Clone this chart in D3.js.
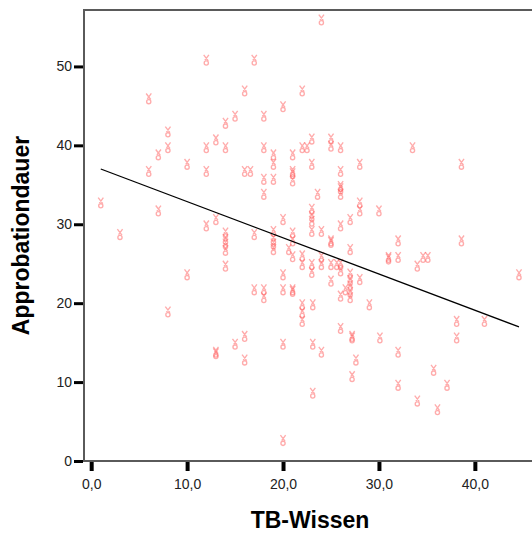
<!DOCTYPE html>
<html>
<head>
<meta charset="utf-8">
<script src="https://cdn.jsdelivr.net/npm/d3@7"></script>
<style>
  body { margin: 0; background: #fff; }
  svg { display: block; }
  .tick text { font-family: Arial, "Liberation Sans", sans-serif; font-size: 14px; fill: #222; }
</style>
</head>
<body>
<div id="graph"></div>
<script>

// TB-Wissen (x) values
var tbWissen = [
  24, 12, 17, 16, 22, 6, 20, 15, 18, 14, 8, 13, 23, 25,
  8, 12, 14, 18, 22, 22.5, 25, 26, 33.5,
  7, 19, 21,
  10, 19, 23, 28, 38.6,
  6, 12, 16, 16.6, 26, 21, 21,
  18, 19, 21,
  26, 26,
  18, 23.6, 26,
  1, 28,
  7, 23, 28, 30,
  13, 20, 23, 27, 23,
  12, 26,
  3, 14, 17, 19, 21, 23, 24,
  14, 19, 21, 25, 25, 32, 38.6,
  14, 19,
  14, 19, 20.6, 27,
  21, 22, 24, 31, 31, 32, 34.6, 35.1,
  14, 22, 23, 24, 25, 25.6, 26, 34,
  23, 10, 20, 26, 27, 44.6,
  25, 27, 28,
  27,
  17, 18, 20, 21, 21, 26.5, 27,
  18, 26, 27,
  22, 23.1, 29,
  8, 22,
  22, 38.1, 41,
  26,
  16, 27.2, 27.2, 30.1, 38.1,
  15, 20, 23.1,
  13, 13, 24, 32,
  16, 27.6,
  35.7,
  27.2,
  32, 37.1,
  23.1,
  34,
  36.1,
  20
];

// Approbationdauer (y) values, same order
var approbationdauer = [
  55.8, 50.7, 50.7, 46.8, 46.8, 45.8, 44.8, 43.6, 43.6, 42.7, 41.6, 40.6, 40.7, 40.7,
  39.6, 39.6, 39.6, 39.6, 39.6, 39.6, 39.8, 39.6, 39.6,
  38.7, 38.7, 38.7,
  37.5, 37.5, 37.5, 37.5, 37.5,
  36.6, 36.6, 36.6, 36.6, 36.6, 36.6, 36.3,
  35.6, 35.6, 35.4,
  34.7, 34.4,
  33.7, 33.7, 33.7,
  32.6, 32.6,
  31.6, 31.8, 31.6, 31.6,
  30.5, 30.5, 30.9, 30.5, 30.3,
  29.7, 29.7,
  28.6, 28.8, 28.6, 29.0, 28.8, 29.0, 29.0,
  28.0, 28.0, 27.8, 27.8, 27.6, 27.8, 27.8,
  27.4, 27.4,
  26.6, 26.7, 26.7, 26.7,
  25.8, 25.9, 25.7, 25.7, 25.5, 25.7, 25.7, 25.7,
  24.6, 24.8, 24.8, 24.8, 24.8, 24.8, 24.8, 24.6,
  23.8, 23.5, 23.5, 24.0, 23.6, 23.5,
  22.7, 22.8, 22.9,
  22.1,
  21.6, 21.6, 21.6, 21.6, 21.4, 21.6, 21.3,
  20.6, 20.8, 20.6,
  19.7, 19.7, 19.7,
  18.8, 18.7,
  17.6, 17.6, 17.6,
  16.7,
  15.7, 15.7, 15.5, 15.5, 15.5,
  14.7, 14.7, 14.7,
  13.7, 13.5, 13.7, 13.7,
  12.7, 12.7,
  11.4,
  10.6,
  9.5, 9.5,
  8.5,
  7.5,
  6.4,
  2.5
];

// fitted line, start and end as drawn in the picture
var fitX = [1.0, 44.6];
var fitY = [37.0, 17.0];

var xTicks = [0, 10, 20, 30, 40];
var xTickLabels = ["0,0", "10,0", "20,0", "30,0", "40,0"];
var yTicks = [0, 10, 20, 30, 40, 50];
var yTickLabels = ["0", "10", "20", "30", "40", "50"];

var xTitle = "TB-Wissen";
var yTitle = "Approbationdauer";

// set the dimensions of the graph
var width = 532, height = 533;
var plot = {left: 84, right: 542, top: 10, bottom: 461};

var svg = d3.select("#graph")
  .append("svg")
    .attr("width", width)
    .attr("height", height);

var x = d3.scaleLinear()
  .domain([-0.75, 47])
  .range([plot.left, plot.right]);

var y = d3.scaleLinear()
  .domain([0, 57.15])
  .range([plot.bottom, plot.top]);

var data = tbWissen.map(function(d, i) { return {x: d, y: approbationdauer[i]}; });

// frame
svg.append("rect")
  .attr("x", plot.left)
  .attr("y", plot.top)
  .attr("width", plot.right - plot.left)
  .attr("height", plot.bottom - plot.top)
  .attr("fill", "none")
  .attr("stroke", "#5a5a5a")
  .attr("stroke-width", 2);

// X axis
var xAxis = svg.append("g")
  .attr("transform", "translate(0," + (plot.bottom + 1) + ")")
  .call(d3.axisBottom(x)
    .tickValues(xTicks)
    .tickSize(9)
    .tickPadding(8)
    .tickFormat(function(d, i) { return xTickLabels[i]; }));
xAxis.select(".domain").remove();
xAxis.selectAll(".tick line").attr("stroke", "#000").attr("stroke-width", 4);

// Y axis
var yAxis = svg.append("g")
  .attr("transform", "translate(" + (plot.left - 1) + ",0)")
  .call(d3.axisLeft(y)
    .tickValues(yTicks)
    .tickSize(9)
    .tickPadding(2)
    .tickFormat(function(d, i) { return yTickLabels[i]; }));
yAxis.select(".domain").remove();
yAxis.selectAll(".tick line").attr("stroke", "#000").attr("stroke-width", 3);

// markers (the odd SPSS glyph: a cross over a small loop)
var glyph = "M-2.6,-5.6L2,0.4M2.6,-5.6L-1.4,-0.2" +
            "M2.1,2.6A2.1,2.1 0 1,1 -2.1,2.6A2.1,2.1 0 1,1 2.1,2.6";

svg.append("g")
  .selectAll("path")
  .data(data)
  .enter()
  .append("path")
    .attr("transform", function(d) { return "translate(" + x(d.x) + "," + (y(d.y) - 0.5) + ")"; })
    .attr("d", glyph)
    .attr("fill", "none")
    .attr("stroke", "#ff5a5a")
    .attr("stroke-opacity", 0.5)
    .attr("stroke-width", 1.35);

// fit line
svg.append("path")
  .datum(fitX.map(function(d, i) { return {x: d, y: fitY[i]}; }))
  .attr("fill", "none")
  .attr("stroke", "#000")
  .attr("stroke-width", 1.3)
  .attr("d", d3.line()
    .x(function(d) { return x(d.x); })
    .y(function(d) { return y(d.y); }));

// axis titles
svg.append("text")
  .attr("x", 310)
  .attr("y", 528)
  .attr("text-anchor", "middle")
  .style("font-family", "Arial, 'Liberation Sans', sans-serif")
  .style("font-weight", "bold")
  .style("font-size", "23px")
  .attr("fill", "#000")
  .text(xTitle);

svg.append("text")
  .attr("transform", "translate(29," + ((plot.top + plot.bottom) / 2) + ") rotate(-90)")
  .attr("text-anchor", "middle")
  .style("font-family", "Arial, 'Liberation Sans', sans-serif")
  .style("font-weight", "bold")
  .style("font-size", "23px")
  .attr("fill", "#000")
  .text(yTitle);

</script>
</body>
</html>
